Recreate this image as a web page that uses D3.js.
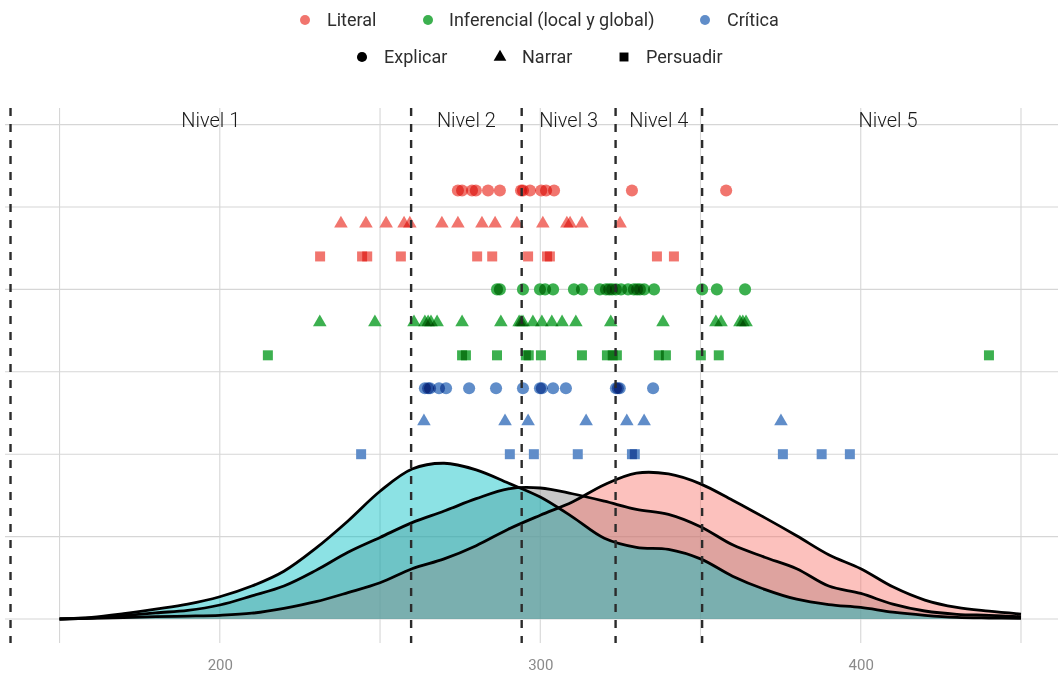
<!DOCTYPE html>
<html>
<head>
<meta charset="utf-8">
<script src="https://cdn.jsdelivr.net/npm/d3@7"></script>
<style>
  body { margin: 0; background: #fff; }
  svg { display: block; font-family: Roboto, "Noto Sans", sans-serif; }
</style>
</head>
<body>
<svg id="chart" width="1063" height="675"></svg>
<script>
// ---- Categories ----
const comprehensionLevels = ["Literal", "Inferencial (local y global)", "Crítica"];
const textTypes = ["Explicar", "Narrar", "Persuadir"];
const levelColors = ["#F1756E", "#3CB04F", "#608DC9"];

// ---- Item difficulties (scale score) by comprehension level and text type ----
const literalExplicar = [274.3, 275.6, 278.7, 279.9, 283.7, 287.4, 294.0, 294.6, 296.8, 300.3, 301.8, 304.3, 328.6, 358.0];
const literalNarrar = [237.8, 245.6, 251.9, 257.5, 259.3, 269.3, 274.3, 281.8, 285.9, 292.7, 300.8, 308.3, 309.3, 313.0, 324.9];
const literalPersuadir = [231.3, 244.4, 246.0, 256.5, 280.3, 285.0, 296.2, 302.1, 303.0, 336.4, 341.7];

const inferencialExplicar = [286.5, 287.4, 294.6, 299.9, 301.5, 304.0, 310.5, 313.0, 318.6, 320.5, 321.5, 322.4, 323.6, 325.2, 327.4, 329.2, 330.2, 331.1, 332.4, 335.5, 350.5, 355.1, 363.9];
const inferencialNarrar = [231.2, 248.4, 260.6, 264.0, 265.0, 265.9, 267.8, 275.6, 287.7, 293.4, 294.0, 294.6, 297.7, 300.5, 303.6, 306.8, 311.1, 322.0, 338.3, 354.8, 356.4, 362.3, 363.2, 364.2];
const inferencialPersuadir = [215.0, 275.6, 276.8, 286.5, 295.5, 296.4, 300.2, 313.0, 320.8, 322.6, 323.9, 337.0, 339.2, 350.1, 355.7, 440.0];

const criticaExplicar = [264.0, 265.0, 265.6, 268.4, 270.6, 277.8, 286.2, 294.6, 299.9, 300.5, 304.0, 308.0, 323.6, 324.2, 324.8, 335.2];
const criticaNarrar = [263.7, 289.0, 296.2, 314.3, 327.0, 332.4, 375.1];
const criticaPersuadir = [244.1, 290.5, 298.0, 311.7, 328.6, 329.5, 375.7, 387.8, 396.6];

// ---- Score distributions (density, in y-axis units) ----
const densityScores = [150, 160, 170, 180, 190, 200, 210, 220, 230, 240, 250, 260, 270, 280, 290, 300,
                       310, 320, 330, 340, 350, 360, 370, 380, 390, 400, 410, 420, 430, 440, 450];
const densityGroup1 = [0.0, 0.02, 0.065, 0.12, 0.18, 0.27, 0.40, 0.58, 0.86, 1.19, 1.55, 1.82, 1.89, 1.81, 1.65, 1.48,
                       1.24, 0.98, 0.87, 0.845, 0.73, 0.52, 0.36, 0.24, 0.175, 0.14, 0.083, 0.045, 0.02, 0.012, 0.008];
const densityGroup2 = [0.0, 0.012, 0.04, 0.075, 0.105, 0.17, 0.28, 0.40, 0.59, 0.81, 0.99, 1.17, 1.31, 1.46, 1.58, 1.59,
                       1.52, 1.43, 1.33, 1.27, 1.12, 0.90, 0.75, 0.61, 0.40, 0.31, 0.18, 0.097, 0.057, 0.045, 0.028];
const densityGroup3 = [0.0, 0.008, 0.018, 0.028, 0.035, 0.045, 0.07, 0.13, 0.21, 0.32, 0.44, 0.61, 0.73, 0.89, 1.09, 1.26,
                       1.42, 1.63, 1.77, 1.76, 1.64, 1.44, 1.23, 1.01, 0.78, 0.61, 0.39, 0.23, 0.14, 0.095, 0.06];

// ---- Performance levels ----
const levelCuts = [134.7, 259.7, 294.2, 323.5, 350.5];
const levelTopScore = 466.5;
const levelNames = ["Nivel 1", "Nivel 2", "Nivel 3", "Nivel 4", "Nivel 5"];

// ---- Axis ticks ----
const xTickValues = [200, 300, 400];
const xGridValues = [150, 200, 250, 300, 350, 400, 450];
const yGridValues = [0, 1, 2, 3, 4, 5, 6];

// ---------------------------------------------------------------
const panel = { left: 5, right: 1058, top: 108, bottom: 643 };

const svg = d3.select("#chart");

const x = d3.scaleLinear().domain([150, 450]).range([59.55, 1021]);
const y = d3.scaleLinear().domain([0, 6]).range([619, 124.6]);

// grid
const grid = svg.append("g").attr("class", "grid");
grid.selectAll("line.h").data(yGridValues).join("line")
  .attr("x1", panel.left).attr("x2", panel.right)
  .attr("y1", d => y(d)).attr("y2", d => y(d))
  .attr("stroke", "#d6d6d6").attr("stroke-width", 1.1);
grid.selectAll("line.v").data(xGridValues).join("line")
  .attr("y1", panel.top).attr("y2", panel.bottom)
  .attr("x1", d => x(d)).attr("x2", d => x(d))
  .attr("stroke", "#d6d6d6").attr("stroke-width", 1.1);

// x axis labels
const xAxis = d3.axisBottom(x).tickValues(xTickValues).tickSize(0).tickPadding(0);
const gx = svg.append("g").attr("transform", `translate(0,${panel.bottom + 17})`).call(xAxis);
gx.select(".domain").remove();
gx.selectAll("text")
  .attr("font-family", "Roboto, sans-serif")
  .attr("font-size", 15)
  .attr("fill", "#8a8a8a")
  .attr("dy", "0.68em");

// densities: grey underneath, then salmon, then teal
const densitySeries = [
  { values: densityGroup2, fill: "#808080", opacity: 0.43 },
  { values: densityGroup3, fill: "#F8766D", opacity: 0.45 },
  { values: densityGroup1, fill: "#00BFC4", opacity: 0.45 }
];
const area = d3.area()
  .x((d, i) => x(densityScores[i]))
  .y0(y(0))
  .y1(d => y(d))
  .curve(d3.curveCatmullRom.alpha(0.5));
const line = d3.line()
  .x((d, i) => x(densityScores[i]))
  .y(d => y(d))
  .curve(d3.curveCatmullRom.alpha(0.5));

const dens = svg.append("g").attr("class", "densities");
dens.selectAll("path.fill").data(densitySeries).join("path")
  .attr("class", "fill")
  .attr("d", d => area(d.values))
  .attr("fill", d => d.fill)
  .attr("fill-opacity", d => d.opacity);
dens.selectAll("path.outline").data(densitySeries).join("path")
  .attr("class", "outline")
  .attr("d", d => line(d.values))
  .attr("fill", "none")
  .attr("stroke", "#000")
  .attr("stroke-width", 2.8)
  .attr("stroke-linejoin", "round");

// points
const pointGroups = [
  [literalExplicar, literalNarrar, literalPersuadir],
  [inferencialExplicar, inferencialNarrar, inferencialPersuadir],
  [criticaExplicar, criticaNarrar, criticaPersuadir]
];
const rowKeys = [];
comprehensionLevels.forEach(l => textTypes.forEach(t => rowKeys.push(l + "|" + t)));
const row = d3.scalePoint().domain(rowKeys).range([y(5.2), y(2.0)]);

const shapes = { "Explicar": d3.symbolCircle, "Narrar": d3.symbolTriangle, "Persuadir": d3.symbolSquare };
const shapeSizes = { "Explicar": 115, "Narrar": 80, "Persuadir": 100 };

const pointData = [];
pointGroups.forEach((byType, li) => {
  byType.forEach((vals, ti) => {
    vals.forEach(v => pointData.push({
      level: comprehensionLevels[li], type: textTypes[ti], score: v, color: levelColors[li]
    }));
  });
});

const pts = svg.append("g").attr("class", "points").style("isolation", "isolate");
pts.selectAll("path").data(pointData).join("path")
  .attr("transform", d => `translate(${x(d.score)},${row(d.level + "|" + d.type)})`)
  .attr("d", d => d3.symbol().type(shapes[d.type]).size(shapeSizes[d.type])())
  .attr("fill", d => d.color)
  .style("mix-blend-mode", "multiply");

// level cut lines
svg.append("g").selectAll("line").data(levelCuts).join("line")
  .attr("x1", d => x(d)).attr("x2", d => x(d))
  .attr("y1", panel.top).attr("y2", panel.bottom)
  .attr("stroke", "#2b2b2b")
  .attr("stroke-width", 2.4)
  .attr("stroke-dasharray", "8,8");

// level labels
const levelBounds = levelCuts.concat([levelTopScore]);
svg.append("g").selectAll("text").data(levelNames).join("text")
  .attr("x", (d, i) => x((levelBounds[i] + levelBounds[i + 1]) / 2))
  .attr("y", 120)
  .attr("dy", "0.35em")
  .attr("text-anchor", "middle")
  .attr("font-size", 20)
  .attr("font-weight", 300)
  .attr("fill", "#1a1a1a")
  .text(d => d);

// legend
const legend = svg.append("g").attr("class", "legend");
const colorKeyX = [305, 428, 705];
const colorTextX = [327, 449, 727];
comprehensionLevels.forEach((name, i) => {
  legend.append("circle").attr("cx", colorKeyX[i]).attr("cy", 20).attr("r", 5)
    .attr("fill", levelColors[i]);
  legend.append("text").attr("x", colorTextX[i]).attr("y", 20).attr("dy", "0.35em")
    .attr("font-size", 18).attr("fill", "#2e2e2e").text(name);
});
const shapeKeyX = [362, 500, 624];
const shapeTextX = [384, 522, 646];
const legendShapeSizes = { "Explicar": 80, "Narrar": 70, "Persuadir": 80 };
textTypes.forEach((name, i) => {
  legend.append("path")
    .attr("transform", `translate(${shapeKeyX[i]},57)`)
    .attr("d", d3.symbol().type(shapes[name]).size(legendShapeSizes[name])())
    .attr("fill", "#000");
  legend.append("text").attr("x", shapeTextX[i]).attr("y", 57).attr("dy", "0.35em")
    .attr("font-size", 18).attr("fill", "#2e2e2e").text(name);
});
</script>
</body>
</html>
